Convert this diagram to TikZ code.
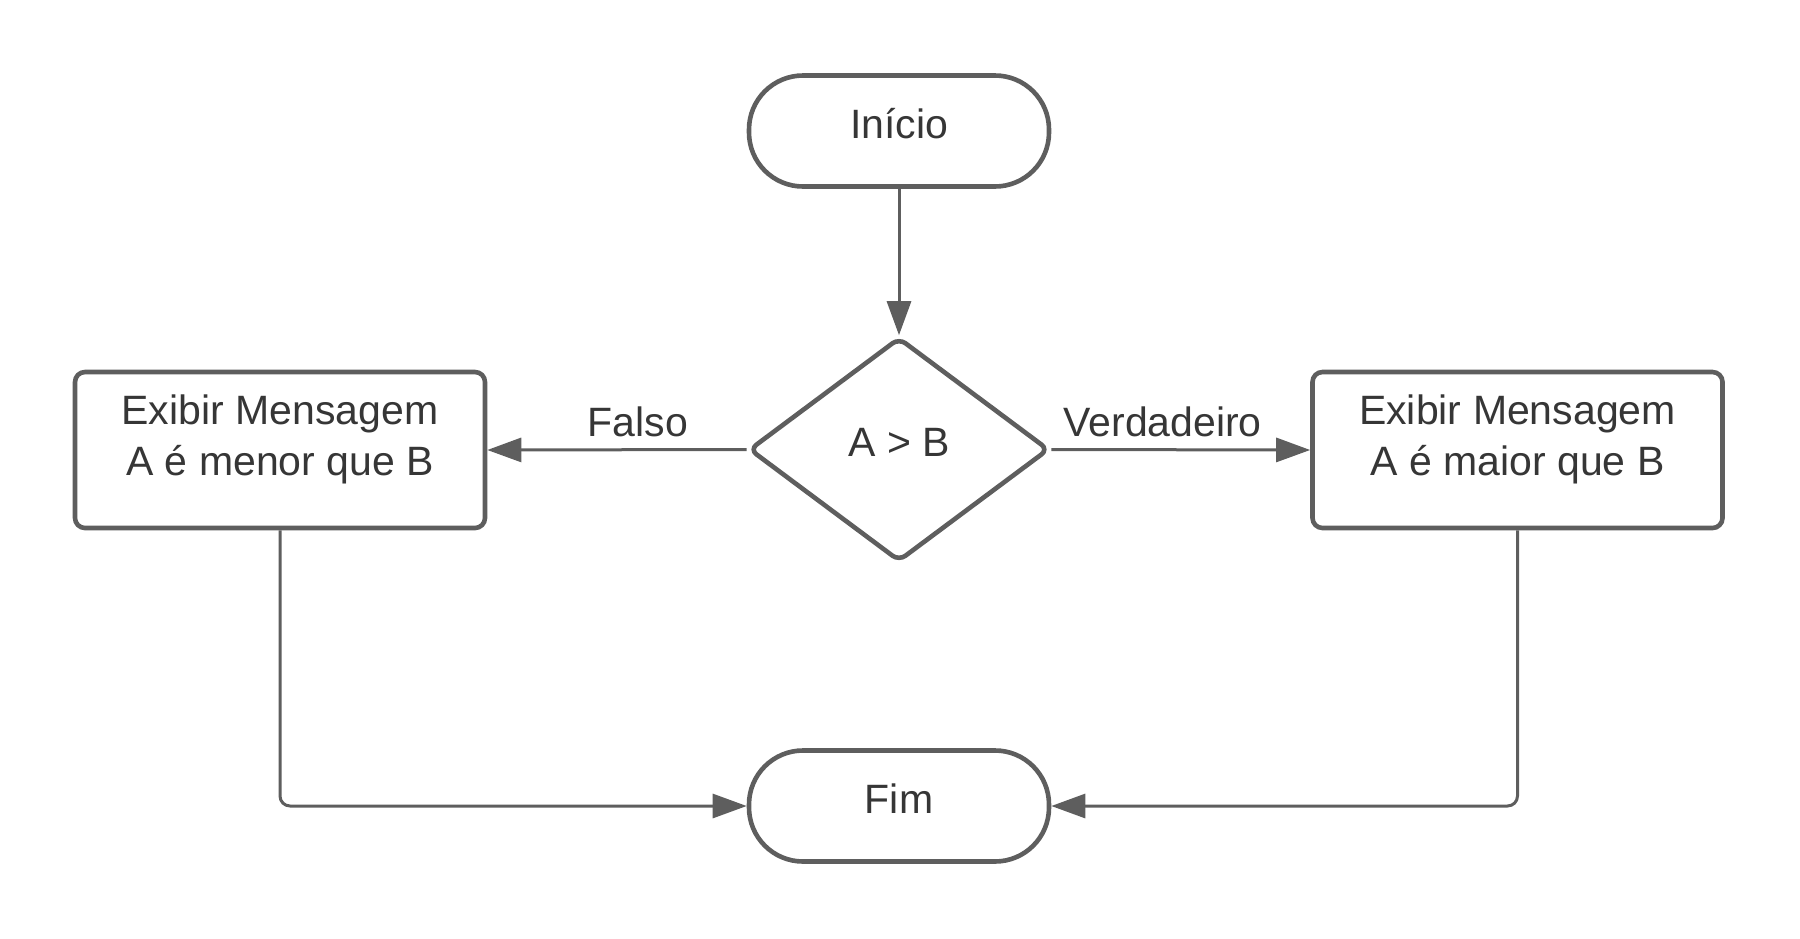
\documentclass[tikz,border=0pt]{standalone}
\usepackage{fontspec}
\setmainfont{Liberation Sans}
\usetikzlibrary{shapes.geometric,arrows.meta}
\definecolor{lc}{HTML}{5E5E5E}
\definecolor{tc}{HTML}{363636}
\tikzset{
  every node/.style={font=\fontsize{20.5}{25.5}\selectfont, text=tc},
  term/.style={draw=lc, line width=2.3pt, fill=white, rounded corners=27pt,
    minimum width=150pt, minimum height=55.5pt, inner sep=0pt,
    text height=0.9em, text depth=0.12em},
  dec/.style={draw=lc, line width=2.3pt, fill=white, diamond, rounded corners=4pt,
    minimum width=150pt, minimum height=112pt, inner sep=0pt, aspect=1.33,
    text height=0.9em, text depth=0.22em},
  procbox/.style={draw=lc, line width=2.3pt, fill=white, rounded corners=5pt,
    minimum width=205pt, minimum height=78pt, inner sep=0pt},
  conn/.style={draw=lc, line width=1.5pt, -{Triangle[length=17pt,width=12pt]}, rounded corners=5pt},
  lbl/.style={text=tc, inner sep=0pt}
}
\begin{document}
\begin{tikzpicture}[x=0.5pt, y=-0.5pt]
\useasboundingbox (0,0) rectangle (1800,938);
\node[term] (ini) at (899,131) {Início};
\node[dec] (cond) at (899,449.5) {A > B};
\node[procbox, label={[lbl, align=center, yshift=5.3pt]center:Exibir Mensagem\\A é menor que B}] (menor) at (280,450) {};
\node[procbox, label={[lbl, align=center, yshift=5.3pt]center:Exibir Mensagem\\A é maior que B}] (maior) at (1517.5,450) {};
\node[term] (fim) at (899,806) {Fim};
\draw[conn] (ini.south) -- (cond.north);
\draw[conn] (cond.west) -- node[lbl, pos=0.42, yshift=14pt] {Falso} (menor.east);
\draw[conn] (cond.east) -- node[lbl, pos=0.43, yshift=14pt] {Verdadeiro} (maior.west);
\draw[conn] (menor.south) |- (fim.west);
\draw[conn] (maior.south) |- (fim.east);
\end{tikzpicture}
\end{document}
